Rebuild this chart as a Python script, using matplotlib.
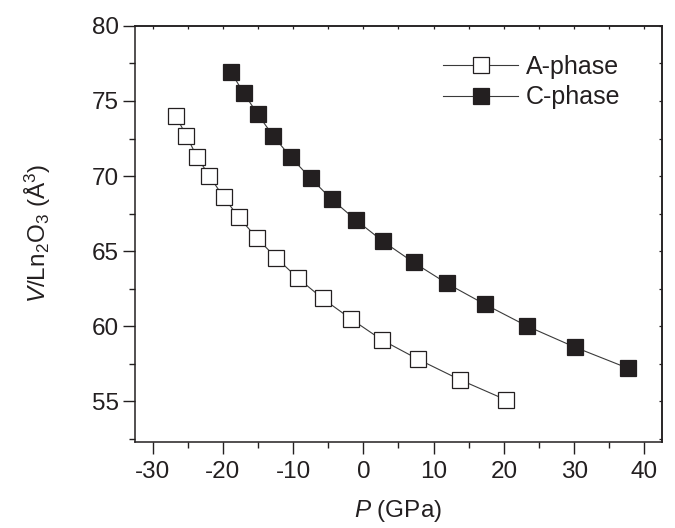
import matplotlib
matplotlib.use("Agg")
import matplotlib.pyplot as plt
from matplotlib.ticker import MultipleLocator

plt.rcParams['font.family'] = ['Liberation Sans', 'DejaVu Sans']
plt.rcParams['mathtext.fontset'] = 'custom'
plt.rcParams['mathtext.rm'] = 'Liberation Sans'
plt.rcParams['mathtext.it'] = 'Liberation Sans:italic'
plt.rcParams['axes.unicode_minus'] = False

# A-phase (open squares)
p_a = [-26.7, -25.2, -23.7, -21.9, -19.9, -17.7, -15.2, -12.4, -9.3, -5.8, -1.8, 2.6, 7.8, 13.7, 20.3]
v_a = [74.0, 72.7, 71.3, 70.0, 68.6, 67.25, 65.9, 64.55, 63.2, 61.85, 60.5, 59.1, 57.8, 56.45, 55.1]
# C-phase (filled squares)
p_c = [-18.8, -17.0, -15.0, -12.8, -10.3, -7.5, -4.5, -1.0, 2.8, 7.15, 11.9, 17.35, 23.35, 30.15, 37.7]
v_c = [76.9, 75.5, 74.1, 72.65, 71.25, 69.85, 68.45, 67.05, 65.65, 64.25, 62.85, 61.45, 60.0, 58.6, 57.2]

dark = '#231f20'
fs = 17.5

fig = plt.figure(figsize=(6.75, 5.28), dpi=100)
ax = fig.add_axes([0.2, 0.163, 0.7807, 0.788])

ax.plot(p_a, v_a, '-s', color='#3a3a3a', lw=0.8, ms=11, mfc='white', mec=dark, mew=0.9, label='A-phase')
ax.plot(p_c, v_c, '-s', color='#3a3a3a', lw=0.8, ms=11, mfc=dark, mec=dark, mew=0.9, label='C-phase')

ax.set_xlim(-32.5, 42.5)
ax.set_ylim(52.3, 80)
ax.xaxis.set_major_locator(MultipleLocator(10))
ax.xaxis.set_minor_locator(MultipleLocator(5))
ax.yaxis.set_major_locator(MultipleLocator(5))
ax.yaxis.set_minor_locator(MultipleLocator(2.5))
ax.set_yticks([55, 60, 65, 70, 75, 80])

for s in ax.spines.values():
    s.set_linewidth(1.1)
    s.set_color(dark)

ax.tick_params(which='major', direction='out', length=8.5, width=1.0, labelsize=fs, colors=dark, pad=3)
ax.tick_params(which='minor', direction='out', length=4.2, width=1.0, colors=dark)
ax.tick_params(axis='x', which='major', pad=5)

# small inward ticks on top and right
top = ax.secondary_xaxis('top')
top.xaxis.set_major_locator(MultipleLocator(5))
top.tick_params(direction='in', length=2.5, width=0.9, labeltop=False, colors=dark)
right = ax.secondary_yaxis('right')
right.yaxis.set_major_locator(MultipleLocator(2.5))
right.tick_params(direction='in', length=2.5, width=0.9, labelright=False, colors=dark)
for sa in (top, right):
    for s in sa.spines.values():
        s.set_linewidth(1.1)
        s.set_color(dark)

ax.set_xlabel(r'$P$ (GPa)', fontsize=fs, color=dark, labelpad=11)
ax.set_ylabel(r'$V$/Ln$_2$O$_3$ (Å$^3$)', fontsize=fs, color=dark, labelpad=28)

leg = ax.legend(loc='upper left', bbox_to_anchor=(443 / 675, 1 - 55 / 528),
                bbox_transform=fig.transFigure, frameon=False, fontsize=18,
                borderpad=0, borderaxespad=0, handlelength=3.0, handletextpad=0.3,
                labelspacing=0.25)
for t in leg.get_texts():
    t.set_color(dark)

fig.savefig('out.png', dpi=100)
